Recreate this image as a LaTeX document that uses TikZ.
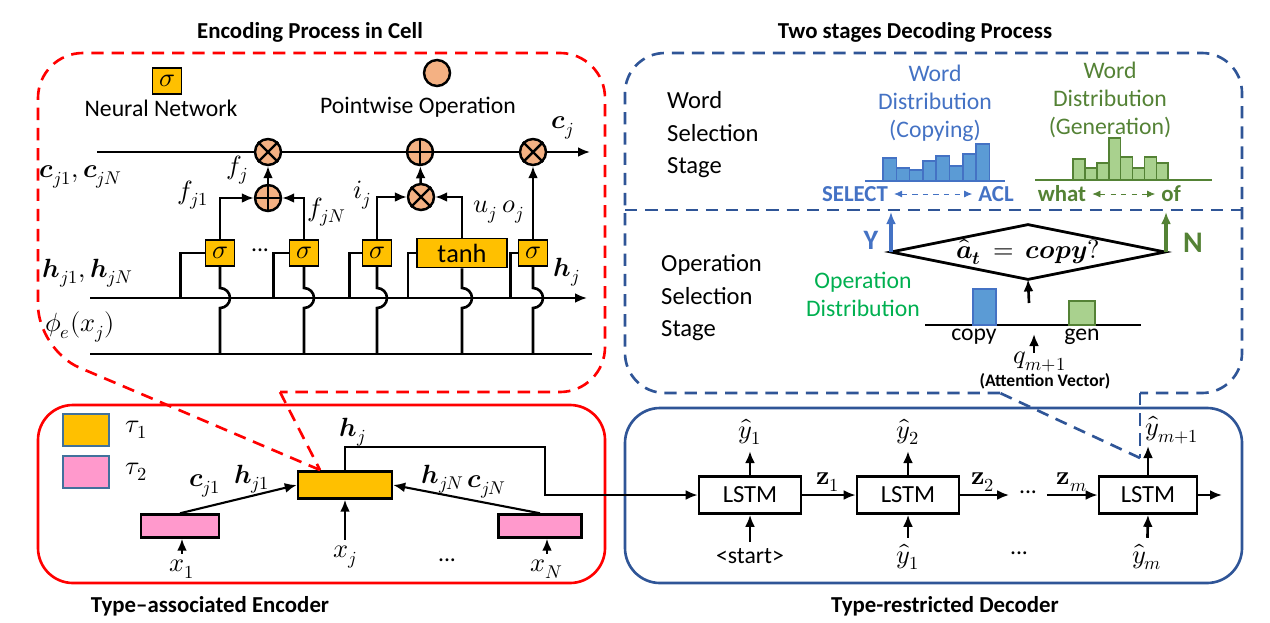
\documentclass[tikz,border=0pt]{standalone}
\usepackage{fontspec}
\setmainfont{Carlito}
\usepackage{unicode-math}
\setmathfont{Latin Modern Math}
\usetikzlibrary{arrows.meta,shapes.geometric,positioning,calc}

\definecolor{nnorange}{HTML}{FFC000}
\definecolor{typepink}{HTML}{FF99CC}
\definecolor{opfill}{HTML}{F4B183}
\definecolor{encred}{HTML}{FF0000}
\definecolor{decblue}{HTML}{2F5597}
\definecolor{copyblue}{HTML}{4472C4}
\definecolor{copyfill}{HTML}{5B9BD5}
\definecolor{gengreen}{HTML}{548235}
\definecolor{genfill}{HTML}{A9D18E}
\definecolor{opgreen}{HTML}{00B050}
\definecolor{legline}{HTML}{41719C}

\tikzset{
  >={Latex[length=2.4mm,width=2mm]},
  txt/.style={font=\fontsize{13.5}{16}\selectfont},
  lbl/.style={font=\fontsize{15}{17}\selectfont},
  ttl/.style={font=\bfseries\fontsize{13}{15}\selectfont},
  stagetxt/.style={font=\fontsize{14}{18.5}\selectfont, align=left, anchor=west},
  wire/.style={line width=1.5pt},
  gate/.style={draw, line width=1pt, fill=nnorange, minimum width=0.58cm, minimum height=0.52cm, inner sep=0pt, font=\fontsize{15}{17}\selectfont},
  opnode/.style={circle, draw, line width=1.4pt, fill=opfill, minimum size=0.52cm, inner sep=0pt},
  cellbox/.style={draw, line width=1.4pt, minimum width=1.88cm, minimum height=0.54cm, inner sep=0pt},
  lstm/.style={draw, line width=1.5pt, minimum width=2.04cm, minimum height=0.74cm, font=\fontsize{14}{16}\selectfont},
  legbox/.style={draw=legline, line width=0.8pt, minimum width=0.92cm, minimum height=0.64cm, inner sep=0pt},
  callout/.style={dashed, dash pattern=on 7pt off 4.5pt, line width=1.5pt},
  copybar/.style={draw=copyblue, fill=copyfill, line width=0.9pt},
  genbar/.style={draw=gengreen, fill=genfill, line width=0.9pt}
}

\begin{document}
\begin{tikzpicture}[x=0.02cm, y=-0.02cm]
\useasboundingbox (0,0) rectangle (1270,622);

% Titles
\node[ttl] (enctitle) at (310,32) {Encoding Process in Cell};
\node[ttl] (dectitle) at (915,32) {Two stages Decoding Process};
\node[ttl] (encname) at (210,606) {Type–associated Encoder};
\node[ttl] (decname) at (945,606) {Type-restricted Decoder};

% Legend of the cell
\node[gate] (legsig) at (167,81) {$\sigma$};
\node[txt] (legnn) at (161,108) {Neural Network};
\node[opnode] (legop) at (437,73) {};
\node[txt] (legpw) at (418,107) {Pointwise Operation};

% Cell state, hidden state and input lines
\coordinate (cin) at (97,152);
\coordinate (cout) at (590,152);
\coordinate (hin) at (90,298);
\coordinate (hout) at (587,298);
\coordinate (phiin) at (90,354);
\coordinate (phiout) at (592,354);
\coordinate (hop) at (0,288);

\node[opnode] (mulf) at (268,152) {};
\node[opnode] (addc) at (420,152) {};
\node[opnode] (mulo) at (533,152) {};
\node[opnode] (addf) at (268,198) {};
\node[opnode] (muli) at (421,197) {};
\foreach \o in {mulf,mulo,muli}
  \draw[line width=1.4pt] (\o.45) -- (\o.225) (\o.135) -- (\o.315);
\foreach \o in {addc,addf}
  \draw[line width=1.4pt] (\o.north) -- (\o.south) (\o.west) -- (\o.east);

\draw[wire] (cin) -- (mulf) (mulf) -- (addc) (addc) -- (mulo);
\draw[wire,->] (mulo) -- (cout);
\draw[wire,->] (hin) -- (hout);
\draw[wire] (phiin) -- (phiout);

% Gates
\node[gate] (sigf1) at (220,253) {$\sigma$};
\node[gate] (sigfN) at (304,253) {$\sigma$};
\node[gate] (sigi) at (377,253) {$\sigma$};
\node[gate, minimum width=1.8cm, minimum height=0.58cm] (tanhu) at (462,253) {$\mathrm{tanh}$};
\node[gate] (sigo) at (533,253) {$\sigma$};
\node[txt] (gdots) at (260,250) {...};

\foreach \g/\d in {sigf1/-24, sigfN/-15, sigi/-12, tanhu/-8, sigo/-7}
  \draw[wire] (\g.west) -| ++(\d,45);
\foreach \g in {sigf1,sigfN,sigi,tanhu,sigo}
  \draw[wire] (\g.south) -- (\g.south |- hop) arc[start angle=90, end angle=-90, radius=0.2cm] -- (\g.south |- phiin);

\draw[wire,->] (sigf1.north) |- (addf.west);
\draw[wire,->] (sigfN.north) |- (addf.east);
\draw[wire,->] (addf) -- (mulf);
\draw[wire,->] (sigi.north) |- (muli.west);
\draw[wire,->] (tanhu.north) |- (muli.east);
\draw[wire,->] (muli) -- (addc);
\draw[wire,->] (sigo) -- (mulo);

% Cell labels
\node[lbl] (lfj) at (237,170) {$f_j$};
\node[lbl] (lfj1) at (193,195) {$f_{j1}$};
\node[lbl] (lfjN) at (327,212) {$f_{jN}$};
\node[lbl] (lij) at (362,195) {$i_j$};
\node[lbl] (luj) at (485,212) {$u_j$};
\node[lbl] (loj) at (513,212) {$o_j$};
\node[lbl] (lcj) at (563,128) {$\symbfit{c}_j$};
\node[lbl] (lhj) at (567,272) {$\symbfit{h}_j$};
\node[lbl] (lcin) at (81,177) {$\symbfit{c}_{j1},\symbfit{c}_{jN}$};
\node[lbl] (lhin) at (88,273) {$\symbfit{h}_{j1},\symbfit{h}_{jN}$};
\node[lbl] (lphi) at (80,327) {$\phi_e(x_j)$};

% Encoder
\draw[encred, line width=1.5pt, rounded corners=0.7cm] (38,405) rectangle (605,583);
\node[legbox, fill=nnorange] (legt1) at (86,430) {};
\node[lbl, right=0.2cm of legt1] (lt1) {$\tau_1$};
\node[legbox, fill=typepink] (legt2) at (86,472) {};
\node[lbl, right=0.2cm of legt2] (lt2) {$\tau_2$};

\node[cellbox, fill=typepink, minimum width=1.56cm, minimum height=0.46cm] (cell1) at (180,526) {};
\node[cellbox, fill=nnorange] (cellj) at (345,485) {};
\node[cellbox, fill=typepink, minimum width=1.66cm, minimum height=0.46cm] (cellN) at (540,526) {};

\node[lbl] (lx1) at (182,569) {$x_1$};
\node[lbl] (lxj) at (345,557) {$x_j$};
\node[lbl] (lxN) at (547,569) {$x_N$};
\node[txt] (xdots) at (447,560) {...};
\draw[wire,->] (lx1) -- (lx1 |- cell1.south);
\draw[wire,->] (lxj) -- (cellj.south);
\draw[wire,->] (lxN) -- (lxN |- cellN.south);

\draw[line width=1.2pt,->] (cell1.north) -- (cellj.west);
\draw[line width=1.2pt,->] (cellN.north) -- (cellj.east);
\node[lbl] (lc1) at (205,486) {$\symbfit{c}_{j1}$};
\node[lbl] (lh1) at (252,479) {$\symbfit{h}_{j1}$};
\node[lbl] (lhN) at (443,479) {$\symbfit{h}_{jN}$};
\node[lbl] (lcN) at (487,487) {$\symbfit{c}_{jN}$};
\node[lbl] (lhout) at (353,432) {$\symbfit{h}_j$};

% Encoding callout
\coordinate (enctip) at (320,470);
\draw[encred, callout, rounded corners=0.9cm] (enctip) -- (38,350) -- (38,53) -- (605,53) -- (605,392) -- (280,392);
\draw[encred, callout] (280,392) -- (enctip);

% Decoder
\draw[decblue, line width=1.5pt, rounded corners=0.7cm] (625,408) rectangle (1242,583);
\node[lstm] (lstm1) at (750,495) {LSTM};
\node[lstm] (lstm2) at (908,495) {LSTM};
\node[lstm, minimum width=1.96cm] (lstm3) at (1148,495) {LSTM};
\draw[wire,->] (cellj.north) |- (545,447) |- (lstm1.west);

\node[lbl] (yo1) at (750,432) {$\hat{y}_1$};
\node[lbl] (yo2) at (908,432) {$\hat{y}_2$};
\node[lbl] (yom) at (1172,430) {$\hat{y}_{m+1}$};
\coordinate (yomtip) at (1148,446);
\draw[wire,->] (lstm1.north) -- (yo1);
\draw[wire,->] (lstm2.north) -- (yo2);
\draw[wire,->] (lstm3.north) -- (yomtip);

\node[txt] (ystart) at (750,556) {<start>};
\node[lbl] (yi1) at (908,557) {$\hat{y}_1$};
\node[lbl] (yim) at (1147,557) {$\hat{y}_m$};
\node[txt] (ydots) at (1019,553) {...};
\draw[wire,->] (ystart) -- (lstm1.south);
\draw[wire,->] (yi1) -- (lstm2.south);
\draw[wire,->] (yim) -- (lstm3.south);

\node[txt, minimum width=0.74cm, inner sep=0pt] (zdots) at (1028,492) {...};
\coordinate (decout) at (1222,495);
\draw[wire,->] (lstm1) -- (lstm2);
\draw[wire,->] (lstm2.east) -- (lstm2.east -| zdots.west);
\draw[wire,->] (zdots.east |- lstm3.west) -- (lstm3.west);
\draw[wire,->] (lstm3.east) -- (decout);
\node[lbl] (lz1) at (828,482) {$\symbf{z}_1$};
\node[lbl] (lz2) at (983,482) {$\symbf{z}_2$};
\node[lbl] (lzm) at (1072,482) {$\symbf{z}_m$};

% Decoding callout
\coordinate (dectip) at (1140,458);
\draw[decblue, callout] (dectip) -- (1000,393);
\draw[decblue, callout, rounded corners=0.8cm] (1000,393) -- (625,393) -- (625,53) -- (1242,53) -- (1242,393) -- (1140,393);
\draw[decblue, callout] (1140,393) -- (dectip);
\draw[decblue, callout] (625,210) -- (1242,210);

% Word selection stage
\node[stagetxt] (wstage) at (661,135) {Word\\Selection\\Stage};
\node[txt, copyblue, align=center, font=\fontsize{13.5}{15.9}\selectfont] (copytxt) at (935,103) {Word\\Distribution\\(Copying)};
\node[txt, gengreen, align=center, font=\fontsize{13.5}{15.9}\selectfont] (gentxt) at (1110,100) {Word\\Distribution\\(Generation)};

\draw[copyblue, line width=1.2pt] (865,181) -- (1005,181);
\foreach \t [count=\i from 0] in {158,168,170,161,156,166,154,144}
  \draw[copybar] ({883+13.3*\i},181) rectangle ({896.3+13.3*\i},\t);
\draw[gengreen, line width=1.2pt] (1035,180) -- (1212,180);
\foreach \t [count=\i from 0] in {159,168,163,138,157,168,157,163}
  \draw[genbar] ({1073+11.9*\i},180) rectangle ({1084.9+11.9*\i},\t);

\node[ttl, copyblue] (sel) at (855,194) {SELECT};
\node[ttl, copyblue] (acl) at (996,194) {ACL};
\draw[copyblue, dashed, <->, >={Latex[length=1.6mm,width=1.4mm]}] (sel.east) -- (acl.west);
\node[ttl, gengreen] (what) at (1062,194) {what};
\node[ttl, gengreen] (of) at (1171,194) {of};
\draw[gengreen, dashed, <->, >={Latex[length=1.6mm,width=1.4mm]}] (what.east) -- (of.west);

% Operation selection stage
\node[stagetxt] (ostage) at (655,298) {Operation\\Selection\\Stage};
\node[txt, opgreen, align=center, font=\fontsize{13.5}{16}\selectfont] (optxt) at (863,294) {Operation\\Distribution};

\node[diamond, draw, line width=1.6pt, aspect=5, minimum width=5.4cm, minimum height=1.02cm, inner sep=0pt, outer sep=0pt, font=\fontsize{15}{17}\selectfont] (decide) at (1028,252) {$\widehat{\symbfit{a}}_{\symbfit{t}}\,\symbf{=}\,\symbfit{copy}?$};
\coordinate (ytip) at (893,212);
\draw[copyblue, line width=2.2pt, ->] (decide.west) -- (decide.west |- ytip);
\node[copyblue, font=\bfseries\fontsize{16}{18}\selectfont] (ylab) at (871,240) {Y};
\coordinate (ntip) at (1166,212);
\draw[gengreen, line width=2.2pt, ->] (decide.east -| ntip) -- (ntip);
\node[gengreen, font=\bfseries\fontsize{17}{19}\selectfont] (nlab) at (1193,243) {N};

\draw[line width=1pt] (925,325) -- (1141,325);
\draw[copybar] (973,325) rectangle (996,289);
\draw[genbar] (1069,325) rectangle (1095,301);
\node[txt] (lcopy) at (974,337) {copy};
\node[txt] (lgen) at (1082,337) {gen};
\coordinate (opin) at (1029,303);
\draw[wire,->] (opin) -- (decide.south);
\node[lbl] (lq) at (1040,362) {$q_{m+1}$};
\coordinate (qfoot) at (1034,353);
\coordinate (qtip) at (1034,334);
\draw[wire,->] (qfoot) -- (qtip);
\node[font=\bfseries\fontsize{10}{12}\selectfont] (latt) at (1045,381) {(Attention Vector)};
\end{tikzpicture}
\end{document}
